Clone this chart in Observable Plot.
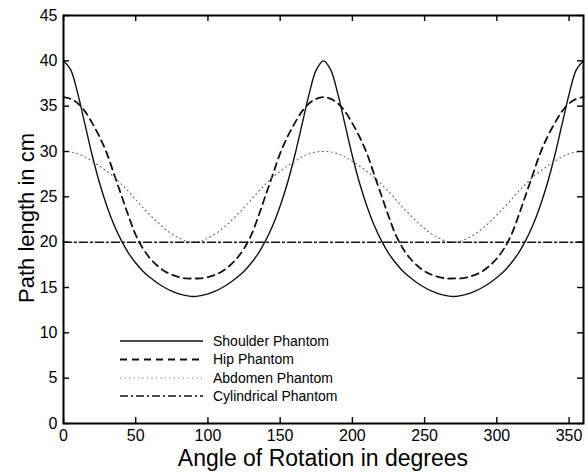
<!DOCTYPE html>
<html>
<head>
<meta charset="utf-8">
<script src="https://cdn.jsdelivr.net/npm/d3@7"></script>
<script src="https://cdn.jsdelivr.net/npm/@observablehq/plot@0.6"></script>
<style>
  html, body { margin: 0; padding: 0; background: white; }
  #chart { width: 588px; height: 474px; }
</style>
</head>
<body>
<div id="chart"></div>
<script>
// ---- data ----
const angles = [0,5,10,15,20,25,30,35,40,45,50,55,60,65,70,75,80,85,90,
  95,100,105,110,115,120,125,130,135,140,145,150,155,160,165,170,175,180,
  185,190,195,200,205,210,215,220,225,230,235,240,245,250,255,260,265,270,
  275,280,285,290,295,300,305,310,315,320,325,330,335,340,345,350,355,360];

const shoulder = [40,39.0,36.3,32.9,29.5,26.5,24.0,21.9,20.2,18.8,17.7,16.8,16.1,15.5,15.0,14.6,14.3,14.1,14.0,
  14.1,14.3,14.6,15.0,15.5,16.1,16.8,17.7,18.8,20.2,21.9,24.0,26.5,29.5,32.9,36.3,39.0,40.0,
  39.0,36.3,32.9,29.5,26.5,24.0,21.9,20.2,18.8,17.7,16.8,16.1,15.5,15.0,14.6,14.3,14.1,14.0,
  14.1,14.3,14.6,15.0,15.5,16.1,16.8,17.7,18.8,20.2,21.9,24.0,26.5,29.5,32.9,36.3,39.0,40.0];

const hip = [36.0,35.8,35.3,34.4,33.1,31.6,29.8,27.5,25.2,22.9,20.8,19.3,18.2,17.4,16.8,16.4,16.15,16.0,16.0,
  16.0,16.15,16.4,16.8,17.4,18.2,19.3,20.8,22.9,25.2,27.5,29.8,31.6,33.1,34.4,35.3,35.8,36.0,
  35.8,35.3,34.4,33.1,31.6,29.8,27.5,25.2,22.9,20.8,19.3,18.2,17.4,16.8,16.4,16.15,16.0,16.0,
  16.0,16.15,16.4,16.8,17.4,18.2,19.3,20.8,22.9,25.2,27.5,29.8,31.6,33.1,34.4,35.3,35.8,36.0];

const abdomen = [30.0,29.95,29.75,29.4,28.9,28.4,27.8,27.2,26.4,25.6,24.7,23.8,23.0,22.2,21.5,20.9,20.45,20.1,20.0,
  20.1,20.45,20.9,21.5,22.2,23.0,23.8,24.7,25.6,26.4,27.2,27.8,28.4,28.9,29.4,29.75,29.95,30.0,
  29.95,29.75,29.4,28.9,28.4,27.8,27.2,26.4,25.6,24.7,23.8,23.0,22.2,21.5,20.9,20.45,20.1,20.0,
  20.1,20.45,20.9,21.5,22.2,23.0,23.8,24.7,25.6,26.4,27.2,27.8,28.4,28.9,29.4,29.75,29.95,30.0];

const cylAngles = [0, 90, 180, 270, 360];
const cylindrical = [20, 20, 20, 20, 20];

const xTicks = [0,50,100,150,200,250,300,350];
const yTicks = [0,5,10,15,20,25,30,35,40,45];

const seriesNames = ["Shoulder Phantom", "Hip Phantom", "Abdomen Phantom", "Cylindrical Phantom"];
const xTitle = "Angle of Rotation in degrees";
const yTitle = "Path length in cm";

// ---- styles ----
const styles = [
  {stroke: "#111", strokeWidth: 1.4, strokeDasharray: null},
  {stroke: "#111", strokeWidth: 1.8, strokeDasharray: "7,5"},
  {stroke: "#666", strokeWidth: 1.1, strokeDasharray: "1,3.5"},
  {stroke: "#111", strokeWidth: 1.5, strokeDasharray: "8,3,2,3"}
];

const tbl = (xs, ys) => xs.map((x, i) => ({x, y: ys[i]}));
const series = [tbl(angles, shoulder), tbl(angles, hip), tbl(angles, abdomen), tbl(cylAngles, cylindrical)];

const W = 588, H = 474;
const M = {left: 63, right: 5, top: 15, bottom: 51};
const innerW = W - M.left - M.right, innerH = H - M.top - M.bottom;
const font = "'Liberation Sans', Arial, Helvetica, sans-serif";
const T = 6; // inward tick length in px

const chart = Plot.plot({
  width: W, height: H,
  marginLeft: M.left, marginRight: M.right, marginTop: M.top, marginBottom: M.bottom,
  style: {fontFamily: font, fontSize: "16px", color: "black", background: "white", overflow: "visible"},
  x: {domain: [0, 360]},
  y: {domain: [0, 45]},
  marks: [
    ...series.map((d, i) => Plot.line(d, {x: "x", y: "y", curve: "catmull-rom", fill: "none", ...styles[i]})),
    // tick labels
    Plot.axisX({anchor: "bottom", ticks: xTicks, tickSize: 0, tickPadding: 6, label: null}),
    Plot.axisY({anchor: "left", ticks: yTicks, tickSize: 0, tickPadding: 6, label: null}),
    // inward tick marks on all four sides
    Plot.tickX(xTicks, {x: d => d, insetTop: innerH - T, stroke: "black", strokeWidth: 1.4}),
    Plot.tickX(xTicks, {x: d => d, insetBottom: innerH - T, stroke: "black", strokeWidth: 1.4}),
    Plot.tickY(yTicks, {y: d => d, insetRight: innerW - T, stroke: "black", strokeWidth: 1.4}),
    Plot.tickY(yTicks, {y: d => d, insetLeft: innerW - T, stroke: "black", strokeWidth: 1.4}),
    Plot.frame({stroke: "black", strokeWidth: 2})
  ]
});

document.getElementById("chart").appendChild(chart);

// ---- titles and legend ----
const svg = d3.select(chart);

svg.append("text")
  .attr("x", 323).attr("y", 466)
  .attr("text-anchor", "middle")
  .style("font-family", font).style("font-size", "23px").attr("fill", "black")
  .text(xTitle);

svg.append("text")
  .attr("transform", "translate(34,218) rotate(-90)")
  .attr("text-anchor", "middle")
  .style("font-family", font).style("font-size", "22px").attr("fill", "black")
  .text(yTitle);

const lg = svg.append("g").attr("text-anchor", "start");
const rows = [341, 359.5, 378, 396];
seriesNames.forEach((name, i) => {
  const s = styles[i];
  lg.append("line")
    .attr("x1", 120).attr("x2", 203).attr("y1", rows[i]).attr("y2", rows[i])
    .attr("stroke", s.stroke).attr("stroke-width", s.strokeWidth)
    .attr("stroke-dasharray", s.strokeDasharray);
  lg.append("text")
    .attr("x", 213).attr("y", rows[i]).attr("dy", "0.35em")
    .attr("text-anchor", "start")
    .style("font-family", font).style("font-size", "14px").attr("fill", "black")
    .text(name);
});
</script>
</body>
</html>
